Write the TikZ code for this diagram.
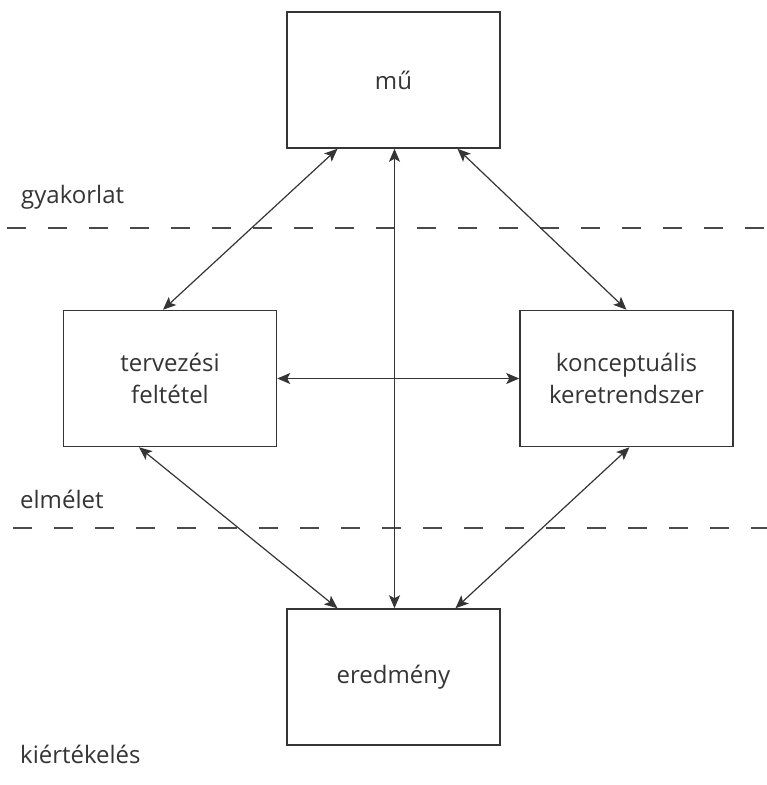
\documentclass[tikz,border=0pt]{standalone}
\usepackage{fontspec}
\setmainfont{Open Sans}
\usetikzlibrary{arrows.meta,calc}
\definecolor{ink}{HTML}{353535}
\begin{document}
\begin{tikzpicture}[x=1pt,y=-1pt,
  box/.style={draw=ink,line width=1.5pt,minimum width=213pt,minimum height=136pt,
    inner sep=0pt,text=ink,font=\fontsize{24}{32}\selectfont,align=center},
  link/.style={draw=ink,line width=1.2pt,{Stealth[length=13pt,width=11pt,inset=3pt]}-{Stealth[length=13pt,width=11pt,inset=3pt]}},
  band/.style={draw=ink!90,line width=1.4pt,dash pattern=on 19pt off 22pt},
  tag/.style={anchor=base west,inner sep=0pt,text=ink,font=\fontsize{24}{28}\selectfont}]
\useasboundingbox (0,0) rectangle (767,785);
\fill[white] (0,0) rectangle (767,785);

% boxes
\node[box] (mu)  at (393.5,80)  {mű};
\node[box] (tf)  at (170,378.5) {tervezési\\feltétel};
\node[box] (kk)  at (626.5,378.5) {konceptuális\\keretrendszer};
\node[box] (er)  at (393.5,677) {eredmény};

% level separators
\coordinate (s1a) at (7,228);   \coordinate (s1b) at (767,228);
\coordinate (s2a) at (13,528);  \coordinate (s2b) at (767,528);
\draw[band] (s1a) -- (s1b);
\draw[band] (s2a) -- (s2b);

% level labels
\node[tag] (g) at (21,203) {gyakorlat};
\node[tag] (e) at (20,508) {elmélet};
\node[tag] (k) at (20,763) {kiértékelés};

% connectors
\draw[link] ($(mu.south)+(-56,0)$) -- ($(tf.north)+(-7,0)$);
\draw[link] ($(mu.south)+(64,0)$)  -- ($(kk.north)+(0,0)$);
\draw[link] ($(mu.south)+(1,0)$)   -- ($(er.north)+(1,0)$);
\draw[link] (tf.east) -- (kk.west);
\draw[link] ($(tf.south)+(-31,0)$) -- ($(er.north)+(-56,0)$);
\draw[link] ($(kk.south)+(3,0)$)   -- ($(er.north)+(62,0)$);
\end{tikzpicture}
\end{document}
